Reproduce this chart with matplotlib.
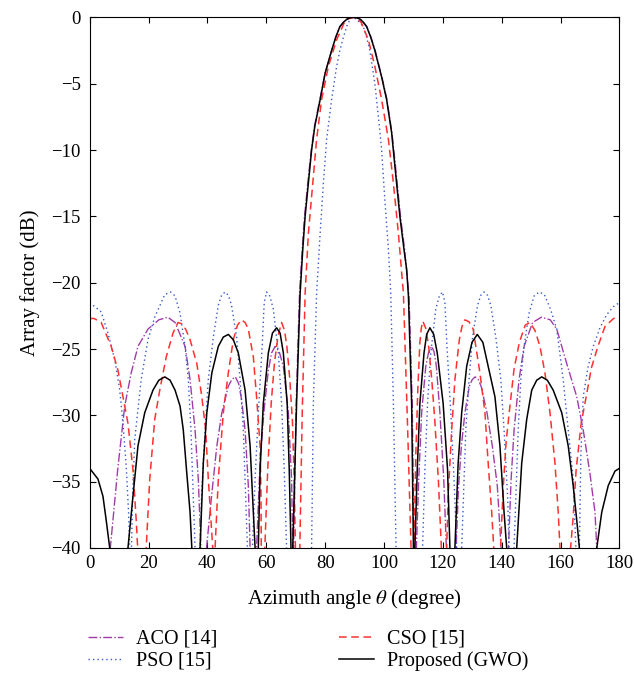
import numpy as np
import matplotlib
matplotlib.use('Agg')
import matplotlib.pyplot as plt

plt.rcParams['font.family'] = ['Liberation Serif', 'DejaVu Serif']
plt.rcParams['mathtext.fontset'] = 'stix'

# (theta in degree, array factor in dB)
# values of -50 mark nulls that fall below the -40 dB axis limit
aco = [(0, -50), (5.5, -50), (7.0, -40), (9.6, -33.9), (11.9, -29.3), (14.1, -26.8),
       (16.4, -24.8), (19.8, -23.5), (23.5, -22.8), (26.5, -22.6), (29.0, -23.0),
       (32.4, -24.8), (34.1, -27.3), (35.8, -31.1), (36.9, -34.8), (37.8, -40),
       (38.8, -50), (39.7, -40), (41.4, -36.1), (43.2, -32.3), (44.9, -29.8),
       (47.1, -27.8), (48.3, -27.3), (49.5, -27.1), (50.6, -27.6), (51.6, -28.8),
       (52.8, -31.1), (53.9, -35.3), (54.5, -40), (55.6, -50), (56.7, -40),
       (58.0, -33.0), (59.3, -29.5), (60.7, -26.6), (61.8, -25.3), (63.0, -24.8),
       (64.4, -25.2), (65.8, -26.3), (67.5, -29.8), (68.6, -34.8), (69.0, -40),
       (69.15, -50), (69.3, -40), (70.1, -29.5), (71.3, -20.8), (72.2, -17.5),
       (73.0, -15.0), (74.1, -12.5), (75.3, -10.0), (76.4, -8.2), (78.2, -6.2),
       (80.0, -4.2), (82.2, -2.5), (83.6, -1.5), (85.0, -0.7), (86.3, -0.35),
       (87.5, -0.12), (88.6, -0.02), (89.6, 0), (90.8, -0.03), (92.0, -0.15),
       (93.1, -0.4), (94.2, -0.7), (95.6, -1.5), (97.0, -2.5), (99.3, -4.5),
       (101.0, -6.2), (102.7, -8.7), (103.9, -11.2), (105.6, -15.0), (107.0, -17.5),
       (108.5, -21.0), (109.6, -29.1), (110.2, -40), (110.6, -50), (111.0, -40),
       (111.8, -34.8), (112.8, -29.8), (114.2, -26.3), (115.2, -25.2), (116.2, -24.8),
       (117.0, -25.2), (117.8, -26.3), (119.0, -29.8), (120.3, -34.8), (121.2, -40),
       (122.8, -50), (124.5, -40), (125.3, -35.5), (126.3, -32.3), (127.5, -29.8),
       (129.0, -27.8), (130.0, -27.3), (131.0, -27.1), (132.0, -27.3), (133.0, -27.8),
       (135.0, -29.8), (136.8, -32.3), (138.5, -35.3), (139.8, -40), (141.0, -50),
       (142.3, -40), (143.2, -34.8), (144.2, -31.1), (145.9, -27.3), (147.6, -24.8),
       (150.5, -23.0), (153.5, -22.6), (156.5, -22.8), (158.7, -23.5), (162.1, -26.1),
       (165.5, -28.6), (167.7, -31.1), (170.0, -34.4), (171.7, -37.3), (172.3, -40),
       (174.0, -50), (180, -50)]

pso = [(0, -21.5), (3.9, -22.2), (6.2, -23.8), (8.5, -25.8), (10.2, -28.1), (11.3, -30.6),
       (12.4, -33.8), (13.2, -37.3), (13.6, -40), (13.9, -50), (14.2, -40), (14.6, -36.0),
       (15.3, -31.8), (17.5, -27.3), (19.8, -24.3), (22.1, -22.6), (25.5, -20.9),
       (27.5, -20.7), (29.0, -21.0), (30.7, -22.3), (32.4, -24.8), (33.5, -27.3),
       (34.4, -31.1), (35.2, -36.1), (35.8, -40), (36.6, -50), (37.5, -40), (38.0, -36.1),
       (39.2, -31.1), (40.3, -27.3), (42.0, -24.1), (43.7, -21.7), (44.8, -20.95),
       (46.0, -20.7), (47.1, -20.95), (48.2, -21.7), (49.9, -24.1), (51.1, -27.3),
       (52.2, -31.1), (53.0, -36.1), (53.6, -40), (54.4, -50), (55.3, -40), (56.2, -34.8),
       (57.3, -29.8), (58.6, -24.8), (59.3, -21.5), (60.1, -20.7), (61.2, -21.0),
       (62.4, -22.0), (64.1, -25.3), (65.2, -29.1), (66.1, -34.1), (66.9, -40),
       (71.0, -50), (75.4, -40), (76.0, -29.1), (77.1, -20.8), (78.3, -16.3),
       (79.4, -12.5), (80.5, -9.2), (82.2, -6.2), (83.9, -3.7), (85.0, -2.5),
       (86.2, -1.5), (87.6, -0.5), (89.0, 0), (90.0, -0.05), (91.0, -0.2), (93.0, -0.7),
       (94.1, -1.5), (95.2, -2.5), (96.9, -5.0), (98.1, -7.5), (99.2, -10.0),
       (100.3, -13.8), (101.5, -17.5), (102.3, -20.8), (103.2, -29.1), (104.1, -40),
       (108.5, -50), (113.1, -40), (113.9, -34.1), (114.8, -29.1), (115.9, -25.3),
       (117.6, -22.0), (118.8, -21.0), (119.9, -20.7), (120.7, -21.5), (121.4, -24.8),
       (122.7, -29.8), (123.8, -34.8), (124.7, -40), (125.5, -50), (126.4, -40),
       (127.0, -36.1), (127.8, -31.1), (128.9, -27.3), (130.1, -24.1), (131.8, -21.7),
       (132.9, -20.95), (134.0, -20.7), (135.2, -20.95), (136.3, -21.7), (138.0, -24.1),
       (139.7, -27.3), (140.8, -31.1), (142.0, -36.1), (142.5, -40), (143.3, -50),
       (144.2, -40), (144.8, -36.1), (145.6, -31.1), (146.5, -27.3), (147.6, -24.8),
       (149.3, -22.3), (151.0, -21.0), (152.8, -20.7), (154.5, -20.9), (156.6, -22.0),
       (158.7, -23.5), (160.9, -27.3), (162.6, -31.1), (164.3, -34.8), (165.2, -40),
       (165.8, -50), (166.4, -40), (166.9, -33.0), (167.7, -28.6), (169.3, -26.4),
       (171.1, -24.8), (173.4, -23.4), (175.7, -22.4), (178.0, -21.8), (180, -21.5)]

cso = [(0, -22.7), (1.5, -22.7), (3.9, -23.0), (7.3, -24.8), (9.6, -26.6), (11.3, -28.6),
       (13.0, -30.6), (14.7, -34.1), (15.8, -37.9), (16.3, -40), (17.8, -50), (19.2, -40),
       (20.4, -34.8), (22.1, -30.3), (23.8, -28.1), (26.0, -25.6), (28.3, -23.8),
       (30.0, -23.0), (31.3, -23.1), (32.6, -23.5), (34.1, -24.3), (36.4, -26.1),
       (38.1, -28.6), (39.4, -31.1), (40.3, -34.8), (41.4, -38.6), (41.8, -40),
       (42.2, -50), (42.6, -40), (43.7, -34.8), (45.4, -29.8), (47.1, -26.8),
       (48.8, -24.3), (50.2, -23.2), (51.6, -22.8), (52.8, -23.0), (53.9, -23.5),
       (55.6, -25.6), (56.7, -28.6), (57.9, -32.3), (58.2, -36.0), (58.3, -40),
       (58.9, -50), (59.5, -40), (60.5, -34.0), (61.7, -29.0), (62.8, -26.0),
       (64.0, -24.0), (65.2, -23.0), (66.2, -23.6), (67.0, -24.8), (68.0, -27.3),
       (68.9, -30.5), (69.5, -35.0), (69.9, -40), (70.6, -50), (71.4, -40), (72.2, -30.0),
       (73.2, -20.8), (74.3, -16.3), (75.8, -12.5), (77.1, -9.2), (78.8, -6.2),
       (81.1, -3.7), (83.9, -1.7), (86.5, -0.4), (88.0, -0.1), (89.5, 0), (91.0, -0.1),
       (92.3, -0.4), (94.7, -1.7), (96.9, -3.7), (99.2, -6.2), (101.5, -9.2),
       (103.2, -12.5), (104.9, -16.3), (106.6, -20.8), (107.9, -30.0), (109.2, -40),
       (109.7, -50), (110.2, -40), (110.8, -33.0), (111.5, -28.0), (112.2, -24.5),
       (112.7, -23.4), (113.2, -22.9), (114.3, -23.5), (115.3, -25.0), (116.3, -27.5),
       (117.3, -30.5), (118.5, -35.0), (119.5, -40), (120.6, -50), (121.3, -40),
       (121.8, -36.1), (123.0, -31.1), (124.1, -27.3), (125.6, -24.3), (126.5, -23.3),
       (127.5, -22.8), (128.9, -22.95), (130.3, -23.5), (132.6, -26.8), (134.3, -29.8),
       (135.4, -33.6), (136.6, -37.3), (137.3, -40), (138.3, -50), (139.6, -40),
       (140.5, -35.5), (141.5, -32.0), (142.7, -29.5), (144.2, -26.5), (146.0, -24.5),
       (148.0, -23.2), (149.6, -23.0), (151.3, -23.6), (153.0, -24.8), (154.7, -26.8),
       (156.4, -29.8), (158.1, -33.6), (159.2, -37.3), (159.8, -40), (161.4, -50),
       (163.4, -40), (164.2, -37.9), (165.3, -34.1), (167.0, -30.6), (168.7, -28.6),
       (170.5, -26.4), (172.7, -24.8), (175.1, -23.3), (178.0, -22.7), (180, -22.6)]

gwo = [(0, -34.0), (2.8, -34.8), (4.5, -36.1), (5.6, -37.9), (6.8, -40), (10.0, -50),
       (13.0, -40), (14.7, -36.1), (16.4, -32.3), (18.7, -29.8), (21.5, -28.1),
       (23.5, -27.35), (25.5, -27.1), (27.3, -27.35), (29.0, -28.1), (30.7, -29.3),
       (31.8, -31.1), (33.0, -34.4), (34.1, -37.3), (34.7, -40), (36.0, -50), (37.5, -40),
       (38.6, -33.6), (39.8, -29.8), (41.5, -26.8), (43.7, -24.8), (45.4, -24.1),
       (47.1, -23.9), (48.8, -24.3), (50.5, -25.3), (52.8, -28.1), (54.5, -32.3),
       (55.6, -37.3), (56.2, -40), (56.8, -50), (57.3, -40), (57.9, -34.1), (59.0, -29.1),
       (60.7, -25.3), (62.1, -23.8), (63.5, -23.4), (64.7, -23.8), (65.8, -25.3),
       (67.1, -29.1), (67.8, -34.1), (68.4, -40), (68.7, -50), (69.0, -40), (70.3, -29.1),
       (71.5, -20.8), (72.4, -17.5), (73.2, -15.0), (74.3, -12.5), (75.4, -10.0),
       (76.5, -8.2), (78.3, -6.2), (80.0, -4.2), (82.2, -2.5), (83.6, -1.5), (85.0, -0.7),
       (86.3, -0.35), (87.5, -0.12), (88.6, -0.02), (89.6, 0), (90.8, -0.03),
       (92.0, -0.15), (93.1, -0.4), (94.1, -0.7), (95.5, -1.5), (96.9, -2.5),
       (99.2, -4.5), (100.9, -6.2), (102.6, -8.7), (103.7, -11.2), (105.4, -15.0),
       (106.8, -17.5), (107.7, -19.0), (108.3, -21.0), (109.4, -29.1), (110.0, -40),
       (110.3, -50), (110.5, -40), (111.3, -34.1), (112.2, -29.1), (113.6, -25.3),
       (114.5, -23.9), (115.6, -23.4), (116.9, -23.9), (118.1, -25.3), (120.1, -29.1),
       (121.6, -34.1), (122.4, -40), (123.2, -50), (124.1, -40), (125.2, -33.6),
       (126.4, -29.8), (128.1, -26.3), (129.9, -24.5), (131.7, -23.9), (133.6, -24.5),
       (135.4, -26.3), (137.7, -28.6), (139.4, -32.3), (140.8, -37.3), (141.7, -40),
       (143.4, -50), (145.1, -40), (146.8, -33.6), (148.5, -30.3), (150.2, -28.1),
       (151.9, -27.35), (153.6, -27.1), (155.5, -27.35), (157.5, -28.1), (160.4, -29.8),
       (162.6, -32.3), (164.3, -35.3), (165.5, -37.9), (166.4, -40), (169.3, -50),
       (172.3, -40), (174.0, -37.3), (176.2, -35.3), (178.5, -34.2), (180, -34.0)]

series = [
    ('ACO [14]', aco, dict(color='#a03ca8', linestyle='-.', linewidth=1.0)),
    ('PSO [15]', pso, dict(color='#3858c8', linestyle=(0, (1, 2.2)), linewidth=1.0)),
    ('CSO [15]', cso, dict(color='#ff3030', linestyle=(0, (5, 3)), linewidth=1.1)),
    ('Proposed (GWO)', gwo, dict(color='black', linestyle='-', linewidth=1.1)),
]

fig = plt.figure(figsize=(6.34, 6.82), dpi=100)
ax = fig.add_axes([0.1415, 0.1965, 0.8355, 0.778])

for label, pts, style in series:
    arr = np.array(pts)
    ax.plot(arr[:, 0], arr[:, 1], label=label, **style)

ax.set_xlim(0, 180)
ax.set_ylim(-40, 0)
ax.set_xticks(np.arange(0, 181, 20))
ax.set_yticks(np.arange(-40, 1, 5))
ax.tick_params(direction='in', top=True, right=True, length=4, width=0.8,
               labelsize=13.5)
ax.tick_params(axis='x', pad=5)
ax.tick_params(axis='y', pad=6.5)
for sp in ax.spines.values():
    sp.set_linewidth(0.8)

ax.set_xlabel(r'Azimuth angle $\theta$ (degree)', fontsize=15, labelpad=11)
ax.set_ylabel('Array factor (dB)', fontsize=15, labelpad=8)

fig.legend(loc='upper left', bbox_to_anchor=(0.139, 0.077), ncol=2,
           frameon=False, fontsize=14.5, handlelength=1.75, handletextpad=0.65,
           columnspacing=6.0, labelspacing=0.15, borderpad=0, borderaxespad=0)

fig.savefig('out.png', dpi=100)
